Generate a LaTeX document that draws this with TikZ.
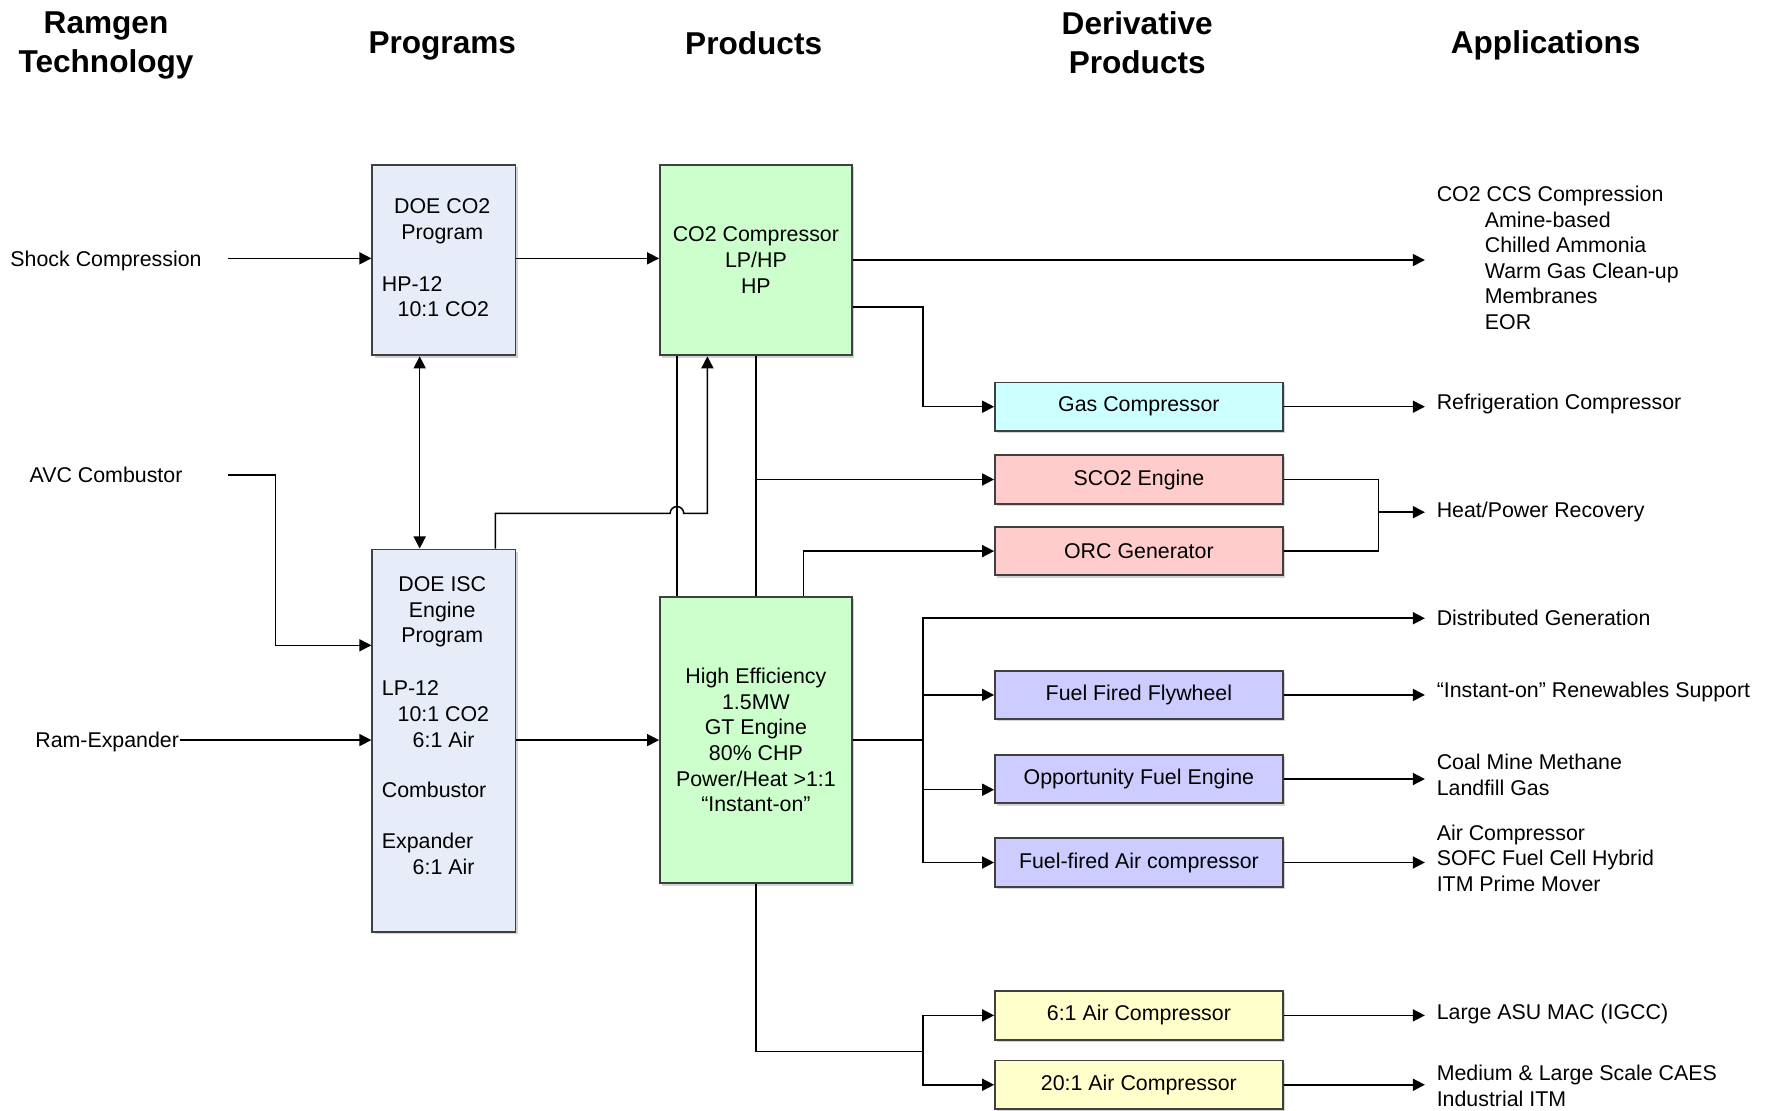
\documentclass[tikz,border=0pt]{standalone}
\usepackage{fontspec}
\setmainfont{Liberation Sans}
\usetikzlibrary{arrows.meta,shadows}

\newcommand{\bodyfont}{\fontsize{14.2}{17}\selectfont}
\newcommand{\headfont}{\fontsize{21}{26}\selectfont\bfseries}

\tikzset{every picture/.style={line width=0.75pt}}
\tikzset{
	box/.style={draw={rgb, 255:red, 64; green, 64; blue, 64 }, line width=1.2pt, inner sep=0pt, align=center, font=\bodyfont,
		drop shadow={shadow xshift=1.5pt, shadow yshift=-1.5pt, opacity=0.35}},
	progbox/.style={box, fill={rgb, 255:red, 230; green, 236; blue, 248 }, minimum width=95.25pt},
	prodbox/.style={box, fill={rgb, 255:red, 204; green, 255; blue, 204 }, minimum width=127.5pt},
	derbox/.style={box, minimum width=191.25pt, minimum height=32.25pt},
	hdr/.style={font=\headfont, align=center, inner sep=0pt},
	txt/.style={font=\bodyfont, align=center, inner sep=0pt},
	applbl/.style={font=\bodyfont, align=left, anchor=west, inner xsep=7.5pt, inner ysep=0pt},
	conn/.style={line width=1pt},
	arr/.style={conn, -{Triangle[length=8pt,width=8pt]}},
	dblarr/.style={conn, {Triangle[length=8pt,width=8pt]}-{Triangle[length=8pt,width=8pt]}}
}

\begin{document}
\begin{tikzpicture}[x=0.75pt,y=0.75pt,yscale=-1,xscale=1]
	\useasboundingbox (0,0) rectangle (1568,984);

	% Column headers
	\node[hdr] (hdtech) at (94,40.5) {Ramgen\\Technology};
	\node[hdr] (hdprog) at (392,41) {Programs};
	\node[hdr] (hdprod) at (668,38) {Products};
	\node[hdr] (hdderiv) at (1008,37.5) {Derivative\\Products};
	\node[hdr] (hdapp) at (1370,40) {Applications};

	% Technology labels
	\node[txt] (shock) at (94,231) {Shock Compression};
	\node[txt] (avc) at (94,421) {AVC Combustor};
	\node[txt] (ramexp) at (95,658) {Ram-Expander};
	\coordinate (shockin) at (202,229);
	\coordinate (avcin) at (202,421);

	% Programs
	\node[progbox, minimum height=126.75pt] (doeco2) at (393.5,230.5) {};
	\node[txt] (doeco2hd) at (392,196) {DOE CO2\\Program};
	\node[txt, align=left, anchor=west] (doeco2spec) at (338,263) {HP-12\\\hspace*{10.5pt}10:1 CO2};

	\node[progbox, minimum height=254.25pt] (doeisc) at (393.5,656.5) {};
	\node[txt] (doeischd) at (392,542.5) {DOE ISC\\Engine\\Program};
	\node[txt, align=left, anchor=west] (doeiscspec) at (338,633) {LP-12\\\hspace*{10.5pt}10:1 CO2\\\hspace*{20.5pt}6:1 Air};
	\node[txt, anchor=west] (doeisccomb) at (338,700) {Combustor};
	\node[txt, align=left, anchor=west] (doeiscexp) at (338,757) {Expander\\\hspace*{20.5pt}6:1 Air};

	% Products
	\node[prodbox, minimum height=126.75pt] (co2comp) at (670,230.5) {CO2 Compressor\\LP/HP\\HP};
	\node[prodbox, minimum height=190.5pt] (hieff) at (670,656) {High Efficiency\\1.5MW\\GT Engine\\80\% CHP\\Power/Heat >1:1\\“Instant-on”};

	% Derivative products
	\node[derbox, fill={rgb, 255:red, 204; green, 255; blue, 255 }] (gascomp) at (1009.5,360.5) {Gas Compressor};
	\node[derbox, fill={rgb, 255:red, 255; green, 204; blue, 204 }] (sco2) at (1009.5,425) {SCO2 Engine};
	\node[derbox, fill={rgb, 255:red, 255; green, 204; blue, 204 }] (orc) at (1009.5,488.5) {ORC Generator};
	\node[derbox, fill={rgb, 255:red, 204; green, 204; blue, 255 }] (flywheel) at (1009.5,616) {Fuel Fired Flywheel};
	\node[derbox, fill={rgb, 255:red, 204; green, 204; blue, 255 }] (oppfuel) at (1009.5,690.5) {Opportunity Fuel Engine};
	\node[derbox, fill={rgb, 255:red, 204; green, 204; blue, 255 }] (fuelair) at (1009.5,764.5) {Fuel-fired Air compressor};
	\node[derbox, fill={rgb, 255:red, 255; green, 255; blue, 204 }] (air6) at (1009.5,900) {6:1 Air Compressor};
	\node[derbox, fill={rgb, 255:red, 255; green, 255; blue, 204 }] (air20) at (1009.5,961.5) {20:1 Air Compressor};

	% Applications
	\node[applbl] (appccs) at (1263,228.5) {CO2 CCS Compression\\\hspace*{32pt}Amine-based\\\hspace*{32pt}Chilled Ammonia\\\hspace*{32pt}Warm Gas Clean-up\\\hspace*{32pt}Membranes\\\hspace*{32pt}EOR};
	\node[applbl] (apprefrig) at (1263,358) {Refrigeration Compressor};
	\node[applbl] (appheat) at (1263,454) {Heat/Power Recovery};
	\node[applbl] (appdg) at (1263,548) {Distributed Generation};
	\node[applbl] (appinst) at (1263,613.5) {“Instant-on” Renewables Support};
	\node[applbl] (appcoal) at (1263,687) {Coal Mine Methane\\Landfill Gas};
	\node[applbl] (appair) at (1263,760.5) {Air Compressor\\SOFC Fuel Cell Hybrid\\ITM Prime Mover};
	\node[applbl] (appasu) at (1263,899) {Large ASU MAC (IGCC)};
	\node[applbl] (appcaes) at (1263,962.5) {Medium \& Large Scale CAES\\Industrial ITM};

	% Inputs to programs
	\draw[arr] (shockin) -- (doeco2.west |- shockin);
	\draw[arr] (avcin) -- (244,421) |- (doeisc.west |- 0,572);
	\draw[arr] (ramexp.east |- 0,656) -- (doeisc.west |- 0,656);
	\draw[dblarr] (doeco2.south -| 372,0) -- (doeisc.north -| 372,0);

	% Programs to products
	\draw[arr] (doeco2.east |- shockin) -- (co2comp.west |- shockin);
	\draw[arr] (doeisc.east |- hieff.west) -- (hieff.west);
	\draw[arr] (doeisc.north -| 439,0) -- (439,455) -- (594,455) arc (180:360:6) -- (627,455) -- (co2comp.south -| 627,0);
	\draw[conn] (co2comp.south -| 600,0) -- (hieff.north -| 600,0);
	\draw[conn] (co2comp.south) -- (hieff.north);

	% Products to derivative products
	\draw[arr] (co2comp.east |- 0,272) -- (818,272) |- (gascomp.west);
	\draw[arr] (co2comp.south |- sco2.west) -- (sco2.west);
	\draw[arr] (hieff.north -| 712,0) |- (orc.west);
	\draw[arr] (hieff.east) -- (818,656) |- (appdg.west);
	\draw[arr] (hieff.east) -- (818,656) |- (flywheel.west);
	\draw[arr] (hieff.east) -- (818,656) |- (oppfuel.west |- 0,700);
	\draw[arr] (hieff.east) -- (818,656) |- (fuelair.west);
	\draw[arr] (hieff.south) |- (818,932) |- (air6.west);
	\draw[arr] (hieff.south) |- (818,932) |- (air20.west);

	% Derivative products to applications
	\coordinate (heatjoin) at (1222,454);
	\draw[arr] (co2comp.east) -- (co2comp.east -| appccs.west);
	\draw[arr] (gascomp.east) -- (gascomp.east -| apprefrig.west);
	\draw[conn] (sco2.east) -| (heatjoin);
	\draw[conn] (orc.east) -| (heatjoin);
	\draw[arr] (heatjoin) -- (heatjoin -| appheat.west);
	\draw[arr] (flywheel.east) -- (flywheel.east -| appinst.west);
	\draw[arr] (oppfuel.east) -- (oppfuel.east -| appcoal.west);
	\draw[arr] (fuelair.east) -- (fuelair.east -| appair.west);
	\draw[arr] (air6.east) -- (air6.east -| appasu.west);
	\draw[arr] (air20.east) -- (air20.east -| appcaes.west);

\end{tikzpicture}
\end{document}
